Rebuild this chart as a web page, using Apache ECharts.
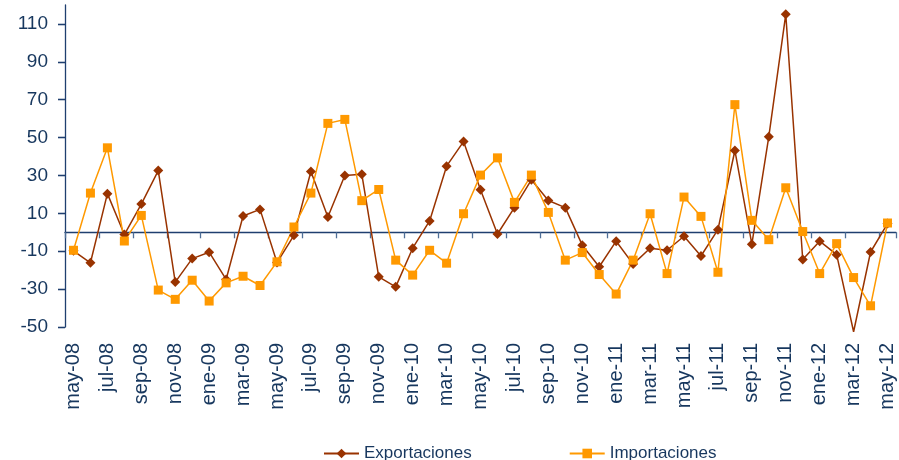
<!DOCTYPE html>
<html>
<head>
<meta charset="utf-8">
<script src="https://cdn.jsdelivr.net/npm/echarts@6/dist/echarts.min.js"></script>
<style>
html,body{margin:0;padding:0;background:#fff;}
#c{width:899px;height:460px;}
</style>
</head>
<body>
<div id="c"></div>
<script>
const categories = ['may-08','jun-08','jul-08','ago-08','sep-08','oct-08','nov-08','dic-08',
  'ene-09','feb-09','mar-09','abr-09','may-09','jun-09','jul-09','ago-09','sep-09','oct-09','nov-09','dic-09',
  'ene-10','feb-10','mar-10','abr-10','may-10','jun-10','jul-10','ago-10','sep-10','oct-10','nov-10','dic-10',
  'ene-11','feb-11','mar-11','abr-11','may-11','jun-11','jul-11','ago-11','sep-11','oct-11','nov-11','dic-11',
  'ene-12','feb-12','mar-12','abr-12','may-12'];

const exportaciones = [-9.8, -16.1, 20.4, -1.2, 14.9, 32.6, -26.3, -13.9, -10.5, -24.9, 8.6, 12.1, -16.0,
  -1.6, 32.1, 8.1, 30.0, 30.7, -23.5, -28.8, -8.4, 6.0, 34.9, 47.9, 22.5, -0.9, 13.0, 27.7, 16.8, 13.0,
  -6.8, -18.2, -4.7, -16.8, -8.4, -9.5, -2.1, -12.5, 1.4, 43.2, -6.3, 50.5, 115.1, -14.4, -4.7, -11.8,
  -52.5, -10.4, 4.6];

const importaciones = [-9.5, 20.7, 44.6, -4.6, 8.9, -30.5, -35.4, -25.3, -36.3, -26.7, -23.2, -28.1, -15.6,
  2.8, 20.7, 57.5, 59.6, 16.7, 22.6, -14.7, -22.6, -9.5, -16.3, 9.8, 30.2, 39.3, 15.8, 30.2, 10.5, -14.7,
  -10.7, -22.3, -32.6, -14.7, 9.8, -21.8, 18.6, 8.4, -21.1, 67.4, 6.3, -3.9, 23.5, 0.4, -21.8, -6.0,
  -23.9, -38.8, 4.9];

const yMin = -50, yMax = 120, yStep = 20;

const textColor = '#17375E';
const font = 'Liberation Sans, Arial, sans-serif';

// half-step positions along the value range, used only to place the y tick marks
const yTickSlots = [];
for (let v = yMin; v <= yMax; v += yStep / 2) yTickSlots.push(String(v));

const chart = echarts.init(document.getElementById('c'), null, {renderer: 'canvas'});

const expData = exportaciones.map(v => v < yMin ? {value: v, symbol: 'none'} : v);

chart.setOption({
  animation: false,
  backgroundColor: '#ffffff',
  grid: {left: 65, right: 3, top: 5, bottom: 133, outerBoundsMode: 'none'},
  legend: {
    left: 318, top: 440,
    itemWidth: 35, itemHeight: 12, itemGap: 97,
    textStyle: {fontFamily: font, fontSize: 17, color: textColor},
    data: ['Exportaciones', 'Importaciones']
  },
  xAxis: [
    {
      type: 'category', data: categories, position: 'bottom',
      axisLine: {show: false, onZero: false},
      axisTick: {show: false},
      axisLabel: {interval: 1, rotate: 90, margin: 16, fontSize: 20, fontFamily: font, color: textColor},
      splitLine: {show: false}
    },
    {
      type: 'category', data: categories, position: 'bottom',
      axisLine: {show: true, onZero: true, onZeroAxisIndex: 0, lineStyle: {color: '#1F3F6F', width: 1.3}},
      axisTick: {show: true, interval: 1, length: 6, lineStyle: {color: '#4F6F97', width: 1.3}},
      axisLabel: {show: false},
      splitLine: {show: false}
    }
  ],
  yAxis: [
    {
      type: 'value', position: 'left', min: yMin, max: yMax, interval: yStep,
      axisLine: {show: true, onZero: false, lineStyle: {color: '#1F3F6F', width: 1.3}},
      axisTick: {show: true, length: 7, lineStyle: {color: '#1F3F6F', width: 1.3}},
      axisLabel: {showMaxLabel: false, margin: 17, fontSize: 19, fontFamily: font, color: textColor},
      splitLine: {show: false}
    },
    {
      type: 'category', position: 'left', data: yTickSlots, boundaryGap: false,
      axisLine: {show: false, onZero: false},
      axisTick: {show: true, interval: function (i) { return i % 2 === 0 && i < yTickSlots.length - 1; },
        length: 7, lineStyle: {color: '#1F3F6F', width: 1.3}},
      axisLabel: {show: false},
      splitLine: {show: false}
    }
  ],
  series: [
    {
      name: 'Exportaciones', type: 'line', xAxisIndex: 0, yAxisIndex: 0,
      data: expData, clip: false,
      symbol: 'diamond', symbolSize: 10,
      lineStyle: {color: '#993300', width: 1.5},
      itemStyle: {color: '#993300'}
    },
    {
      name: 'Importaciones', type: 'line', xAxisIndex: 0, yAxisIndex: 0,
      data: importaciones,
      symbol: 'rect', symbolSize: 9,
      lineStyle: {color: '#FF9900', width: 1.5},
      itemStyle: {color: '#FF9900'}
    }
  ]
});
</script>
</body>
</html>
